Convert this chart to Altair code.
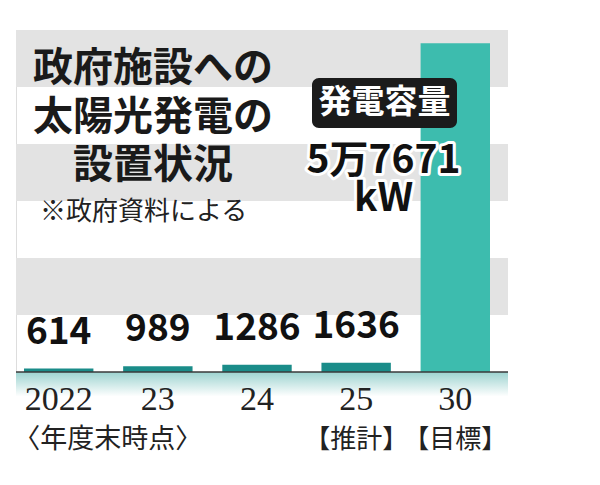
import altair as alt
import pandas as pd

# ---- data ----
years = ["2022", "23", "24", "25", "30"]
capacity_kw = [614, 989, 1286, 1636, 57671]
value_labels = ["614", "989", "1286", "1636", ""]
sub_labels = ["〈年度末時点〉", "", "", "【推計】", "【目標】"]
kinds = ["実績", "実績", "実績", "推計", "目標"]

band_lo = [10000, 30000, 50000]
band_hi = [20000, 40000, 60000]

title_lines = ["政府施設への", "太陽光発電の", "設置状況"]
source_note = "※政府資料による"
box_label = "発電容量"
target_lines = ["5万7671", "kW"]

W, H = 492, 342
JP = "Noto Sans CJK JP"
NUM = "Noto Sans CJK JP"
SERIF = "Liberation Serif, Noto Sans CJK JP"

df = pd.DataFrame({"year": years, "v": capacity_kw, "lab": value_labels,
                   "sub": sub_labels, "kind": kinds})
bands = pd.DataFrame({"lo": band_lo, "hi": band_hi})

yscale = alt.Scale(domain=[0, 60000], nice=False, zero=True)
xscale = alt.Scale(domain=years, range=[8, 474], paddingInner=0.3, paddingOuter=0)
X = alt.X("year:N", sort=years, scale=xscale, axis=None)

band_layer = alt.Chart(bands).mark_rect(color="#e3e3e3").encode(
    y=alt.Y("lo:Q", scale=yscale, axis=None), y2="hi:Q",
    x=alt.value(0), x2=alt.value(W))

grad = alt.Chart(pd.DataFrame({"lo": [0], "hi": [-4300]})).mark_rect(
    color=alt.LinearGradient(gradient="linear",
                             stops=[alt.GradientStop(color="#9dd3d0", offset=0),
                                    alt.GradientStop(color="#ffffff", offset=1)],
                             x1=0, x2=0, y1=0, y2=1)
).encode(y=alt.Y("lo:Q", scale=yscale, axis=None), y2="hi:Q",
         x=alt.value(0), x2=alt.value(W))

bars = alt.Chart(df).mark_bar().encode(
    x=X, y=alt.Y("v:Q", scale=yscale, axis=None),
    color=alt.Color("kind:N", scale=alt.Scale(domain=["実績", "推計", "目標"],
                                              range=["#1a8c89", "#1a8c89", "#3dbcae"]),
                    legend=None))

baseline = alt.Chart(pd.DataFrame({"z": [0]})).mark_rule(
    color="#3a3a3a", strokeWidth=1.5).encode(
    y=alt.Y("z:Q", scale=yscale, axis=None), x=alt.value(0), x2=alt.value(W + 2))

vlabels = alt.Chart(df).transform_filter("datum.lab != ''").mark_text(
    font=NUM, fontWeight="bold", fontSize=37, baseline="middle", dy=-36,
    color="#111111").encode(x=X, y=alt.Y("v:Q", scale=yscale, axis=None), text="lab:N")

xlab = alt.Chart(df).mark_text(font=SERIF, fontSize=34, baseline="middle",
                               color="#222222").encode(
    x=X, y=alt.value(H + 28), text="year:N")

sub_first = alt.Chart(df).transform_filter("datum.year == '2022'").mark_text(
    font=JP, fontSize=27, baseline="middle", dx=49, color="#222222").encode(
    x=X, y=alt.value(H + 68), text="sub:N")
sub_rest = alt.Chart(df).transform_filter(
    "datum.year != '2022' && datum.sub != ''").mark_text(
    font=JP, fontSize=26, baseline="middle", color="#222222").encode(
    x=X, y=alt.value(H + 68), text="sub:N")

title = alt.Chart(pd.DataFrame({"t": [0]})).mark_text(
    text=title_lines, font=JP, fontWeight="bold", fontSize=40, lineHeight=48.5,
    baseline="middle", align="center", color="#1a1a1a").encode(
    x=alt.value(137), y=alt.value(39))

note = alt.Chart(pd.DataFrame({"t": [source_note]})).mark_text(
    font=JP, fontSize=26, baseline="middle", align="left", color="#222222").encode(
    x=alt.value(24), y=alt.value(182), text="t:N")

box = alt.Chart(pd.DataFrame({"t": [box_label]})).mark_rect(
    color="#1b1b1b", cornerRadius=7).encode(
    x=alt.value(296), x2=alt.value(441), y=alt.value(48), y2=alt.value(98))
box_text = alt.Chart(pd.DataFrame({"t": [box_label]})).mark_text(
    font=JP, fontWeight="bold", fontSize=33, baseline="middle", color="white").encode(
    x=alt.value(368.5), y=alt.value(73), text="t:N")

tl = pd.DataFrame({"t": target_lines, "yy": [131, 169]})
target_halo = alt.Chart(tl).mark_text(
    font=NUM, fontWeight="bold", fontSize=39, baseline="middle", color="white",
    stroke="white", strokeWidth=6, strokeJoin="round").encode(
    x=alt.value(367.5), y=alt.Y("yy:Q", scale=None), text="t:N")
target_text = alt.Chart(tl).mark_text(
    font=NUM, fontWeight="bold", fontSize=39, baseline="middle", color="#111111").encode(
    x=alt.value(367.5), y=alt.Y("yy:Q", scale=None), text="t:N")

chart = alt.layer(
    band_layer, grad, bars, baseline, vlabels, xlab, sub_first, sub_rest,
    title, note, box, box_text, target_halo, target_text
).resolve_scale(y="shared").properties(
    width=W, height=H,
    autosize=alt.AutoSizeParams(type="none"),
    padding={"left": 8, "top": 22, "right": 0, "bottom": 110},
).configure_view(stroke=None).configure(background="white")

chart.save("out.html", embed_options={"renderer": "svg", "actions": False})
